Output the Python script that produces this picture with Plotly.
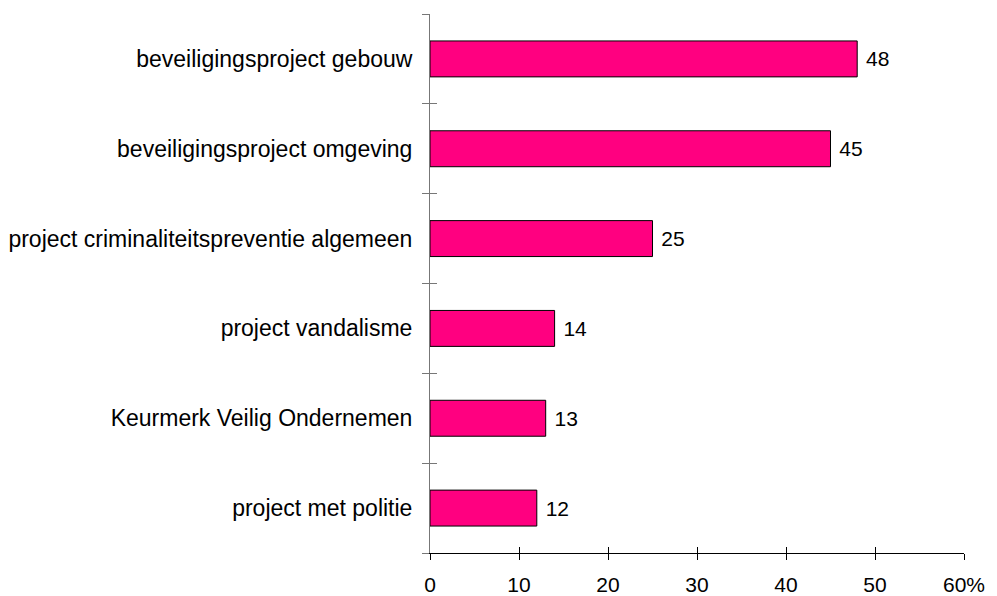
import plotly.graph_objects as go

categories = [
    "project met politie",
    "Keurmerk Veilig Ondernemen",
    "project vandalisme",
    "project criminaliteitspreventie algemeen",
    "beveiligingsproject omgeving",
    "beveiligingsproject gebouw",
]
values = [12, 13, 14, 25, 45, 48]
x_tick_vals = [0, 10, 20, 30, 40, 50, 60]
x_tick_text = ["0", "10", "20", "30", "40", "50", "60%"]

positions = list(range(len(categories)))
boundaries = [p - 0.5 for p in positions] + [positions[-1] + 0.5]
y_range = [boundaries[0], boundaries[-1]]
x_range = [0, 60]

FONT = "Liberation Sans, Arial, sans-serif"

fig = go.Figure()
fig.add_trace(go.Bar(
    x=values, y=positions, orientation="h", width=0.4,
    marker=dict(color="#FF0080", line=dict(color="#000000", width=1)),
    text=["\u00a0" + str(v) for v in values], textposition="outside",
    textfont=dict(family=FONT, size=21, color="#000000"),
    cliponaxis=False, constraintext="none", hoverinfo="skip",
))
# empty traces to carry the tick-only overlay axes
fig.add_trace(go.Scatter(x=[], y=[], xaxis="x2", yaxis="y2", showlegend=False))
fig.add_trace(go.Scatter(x=[], y=[], xaxis="x3", yaxis="y3", showlegend=False))

common_x = dict(range=x_range, tickvals=x_tick_vals, showgrid=False, zeroline=False,
                fixedrange=True, automargin=False)
common_y = dict(range=y_range, showgrid=False, zeroline=False, fixedrange=True, automargin=False)

fig.update_layout(
    template="none",
    width=997, height=596,
    margin=dict(l=430, r=33, t=14, b=43),
    paper_bgcolor="white", plot_bgcolor="white",
    showlegend=False,
    font=dict(family=FONT, size=21, color="#000000"),
    xaxis=dict(**common_x, ticktext=x_tick_text, ticks="outside", ticklen=13,
               tickcolor="rgba(0,0,0,0)", showline=True, linecolor="#000000", linewidth=1,
               tickfont=dict(family=FONT, size=21, color="#000000")),
    xaxis2=dict(**common_x, overlaying="x", anchor="y", ticks="outside", ticklen=6,
                tickcolor="#000000", showticklabels=False, showline=False),
    xaxis3=dict(**common_x, overlaying="x", anchor="y", ticks="inside", ticklen=6,
                tickcolor="#000000", showticklabels=False, showline=False),
    yaxis=dict(**common_y, tickvals=positions, ticktext=categories, ticks="outside",
               ticklen=12, tickcolor="rgba(0,0,0,0)", showline=True, linecolor="#777777",
               linewidth=1, tickfont=dict(family=FONT, size=23, color="#000000")),
    yaxis2=dict(**common_y, overlaying="y", anchor="x", tickvals=boundaries, ticks="outside",
                ticklen=7, tickcolor="#777777", showticklabels=False, showline=False),
    yaxis3=dict(**common_y, overlaying="y", anchor="x", tickvals=boundaries, ticks="inside",
                ticklen=7, tickcolor="#777777", showticklabels=False, showline=False),
)

fig.write_html("out.html", config={"displayModeBar": False},
               post_script="document.body.style.margin='0';document.body.style.overflow='hidden';")
